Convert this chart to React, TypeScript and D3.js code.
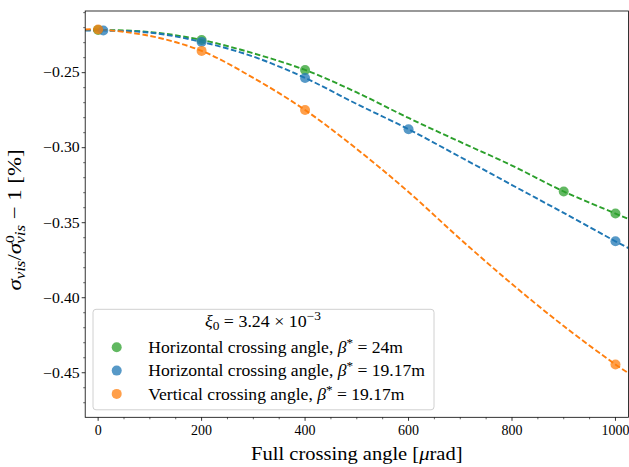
import React from "react";
import * as d3 from "d3";

// ---- data ----
const xTicks = [0, 200, 400, 600, 800, 1000];
const yTicks = [-0.25, -0.3, -0.35, -0.4, -0.45];

const greenX = [0, 200, 400, 900, 1000];
const greenY = [-0.2215, -0.2282, -0.2482, -0.3292, -0.3439];
const blueX = [10, 200, 400, 600, 1000];
const blueY = [-0.2219, -0.2295, -0.2535, -0.2877, -0.3624];
const orangeX = [0, 200, 400, 1000];
const orangeY = [-0.2212, -0.2355, -0.2749, -0.4445];

// dashed fit curves
const curveX = [-25, 0, 100, 200, 300, 400, 500, 600, 700, 800, 900, 1000, 1025];
const greenCurve = [-0.2215, -0.2215, -0.2229, -0.2282, -0.2371, -0.2482, -0.2632, -0.2802, -0.2962, -0.3119, -0.3292, -0.3439, -0.3475];
const blueCurve = [-0.2219, -0.2219, -0.2233, -0.2295, -0.2393, -0.2535, -0.2709, -0.2877, -0.3062, -0.3249, -0.3435, -0.3624, -0.3669];
const orangeCurve = [-0.2212, -0.2212, -0.2255, -0.2355, -0.2535, -0.2749, -0.3009, -0.3295, -0.3609, -0.3909, -0.4189, -0.4445, -0.4502];

const legendLabels = ["Horizontal crossing angle, ", "Horizontal crossing angle, ", "Vertical crossing angle, "];
const legendBeta = ["24m", "19.17m", "19.17m"];

const COLORS = { green: "#2ca02c", blue: "#1f77b4", orange: "#ff7f0e" };

const W = 629;
const H = 467;
const M = { left: 85.2, right: 628.4, top: 11, bottom: 417.3 };

const x = d3.scaleLinear().domain([-25, 1025]).range([M.left, M.right]);
const y = d3.scaleLinear().domain([-0.4797, -0.2089]).range([M.bottom, M.top]);

const FONT = "'Liberation Serif', 'Times New Roman', serif";

function fmt(v: number) {
  return (v < 0 ? "\u2212" : "") + Math.abs(v).toFixed(2);
}

const series = [
  { name: "green", xs: greenX, ys: greenY, curve: greenCurve, color: COLORS.green },
  { name: "blue", xs: blueX, ys: blueY, curve: blueCurve, color: COLORS.blue },
  { name: "orange", xs: orangeX, ys: orangeY, curve: orangeCurve, color: COLORS.orange },
];
const legendColors = [COLORS.green, COLORS.blue, COLORS.orange];

export default function App() {
  const line = d3
    .line<number>()
    .x((_, i) => x(curveX[i]))
    .y((d) => y(d))
    .curve(d3.curveCatmullRom.alpha(0.5));

  const xMinor = d3.range(-0, 1001, 50).filter((v) => v % 200 !== 0);
  const yMinor = d3
    .range(-47, -20, 1)
    .map((v) => v / 100)
    .filter((v) => Math.round(v * 100) % 5 !== 0);

  return (
    <div style={{ position: "absolute", left: 0, top: 0 }}>
      <svg width={W} height={H} style={{ display: "block", background: "#fff" }} fontFamily={FONT}>
        <defs>
          <clipPath id="plotclip">
            <rect x={M.left} y={M.top} width={M.right - M.left} height={M.bottom - M.top} />
          </clipPath>
        </defs>

        {/* curves and points */}
        <g clipPath="url(#plotclip)">
          {series.map((s) => (
            <path
              key={s.name + "c"}
              d={line(s.curve) || ""}
              fill="none"
              stroke={s.color}
              strokeWidth={1.9}
              strokeDasharray="5.6,2.6"
            />
          ))}
          {series.map((s) =>
            s.xs.map((xv, i) => (
              <circle key={s.name + i} cx={x(xv)} cy={y(s.ys[i])} r={5} fill={s.color} fillOpacity={0.75} />
            ))
          )}
        </g>

        {/* spines */}
        <rect
          x={M.left}
          y={M.top}
          width={M.right - M.left}
          height={M.bottom - M.top}
          fill="none"
          stroke="#000"
          strokeWidth={0.8}
        />

        {/* x ticks */}
        {xTicks.map((t) => (
          <g key={"xt" + t}>
            <line x1={x(t)} x2={x(t)} y1={M.bottom} y2={M.bottom + 3.5} stroke="#000" strokeWidth={0.8} />
            <text x={x(t)} y={M.bottom + 18} fontSize={14} textAnchor="middle" fill="#000">
              {t}
            </text>
          </g>
        ))}
        {xMinor.map((t) => (
          <line key={"xm" + t} x1={x(t)} x2={x(t)} y1={M.bottom} y2={M.bottom + 2} stroke="#000" strokeWidth={0.6} />
        ))}

        {/* y ticks */}
        {yTicks.map((t) => (
          <g key={"yt" + t}>
            <line x1={M.left - 3.5} x2={M.left} y1={y(t)} y2={y(t)} stroke="#000" strokeWidth={0.8} />
            <g transform={`translate(${M.left - 5.5}, ${y(t) + 4.8}) scale(1.13,1)`}>
              <text x={0} y={0} fontSize={14} textAnchor="end" fill="#000">
                {fmt(t)}
              </text>
            </g>
          </g>
        ))}
        {yMinor.map((t) => (
          <line key={"ym" + t} x1={M.left - 2} x2={M.left} y1={y(t)} y2={y(t)} stroke="#000" strokeWidth={0.6} />
        ))}

        {/* x label */}
        <g transform={`translate(${(M.left + M.right) / 2}, 460) scale(1.08,1)`}>
          <text x={0} y={0} fontSize={19} textAnchor="middle" fill="#000">
            Full crossing angle [<tspan fontStyle="italic">μ</tspan>rad]
          </text>
        </g>

        {/* y label */}
        <g transform={`translate(21, 220) rotate(-90) scale(1.2,1)`}>
          <text x={0} y={0} fontSize={19} textAnchor="middle" fill="#000">
            <tspan fontStyle="italic">σ</tspan>
            <tspan fontStyle="italic" fontSize={14} dy={4}>vis</tspan>
            <tspan dy={-4}>/</tspan>
            <tspan fontStyle="italic">σ</tspan>
            <tspan fontSize={13} dy={-7}>0</tspan>
            <tspan fontStyle="italic" fontSize={14} dx={-7} dy={11}>vis</tspan>
            <tspan dy={-4}> − 1 [%]</tspan>
          </text>
        </g>

        {/* legend */}
        <g>
          <rect x={93} y={309.3} width={341} height={100.5} rx={3} fill="#fff" fillOpacity={0.8} stroke="#d0d0d0" strokeWidth={1} />
          <g transform={`translate(263, 326.7) scale(1.12,1)`}>
            <text x={0} y={0} fontSize={16} textAnchor="middle" fill="#000">
              <tspan fontStyle="italic">ξ</tspan>
              <tspan fontSize={12} dy={3}>0</tspan>
              <tspan dy={-3}> = 3.24 × 10</tspan>
              <tspan fontSize={12} dy={-7}>−3</tspan>
            </text>
          </g>
          {legendLabels.map((lab, i) => {
            const cy = 347.3 + i * 23.3;
            return (
              <g key={"lg" + i}>
                <circle cx={116.7} cy={cy} r={5} fill={legendColors[i]} fillOpacity={0.75} />
                <g transform={`translate(148.3, ${cy + 5.8}) scale(1.1,1)`}>
                  <text x={0} y={0} fontSize={16} fill="#000">
                    {lab}
                    <tspan fontStyle="italic">β</tspan>
                    <tspan fontSize={12} dy={-6}>*</tspan>
                    <tspan dy={6}> = {legendBeta[i]}</tspan>
                  </text>
                </g>
              </g>
            );
          })}
        </g>
      </svg>
    </div>
  );
}
